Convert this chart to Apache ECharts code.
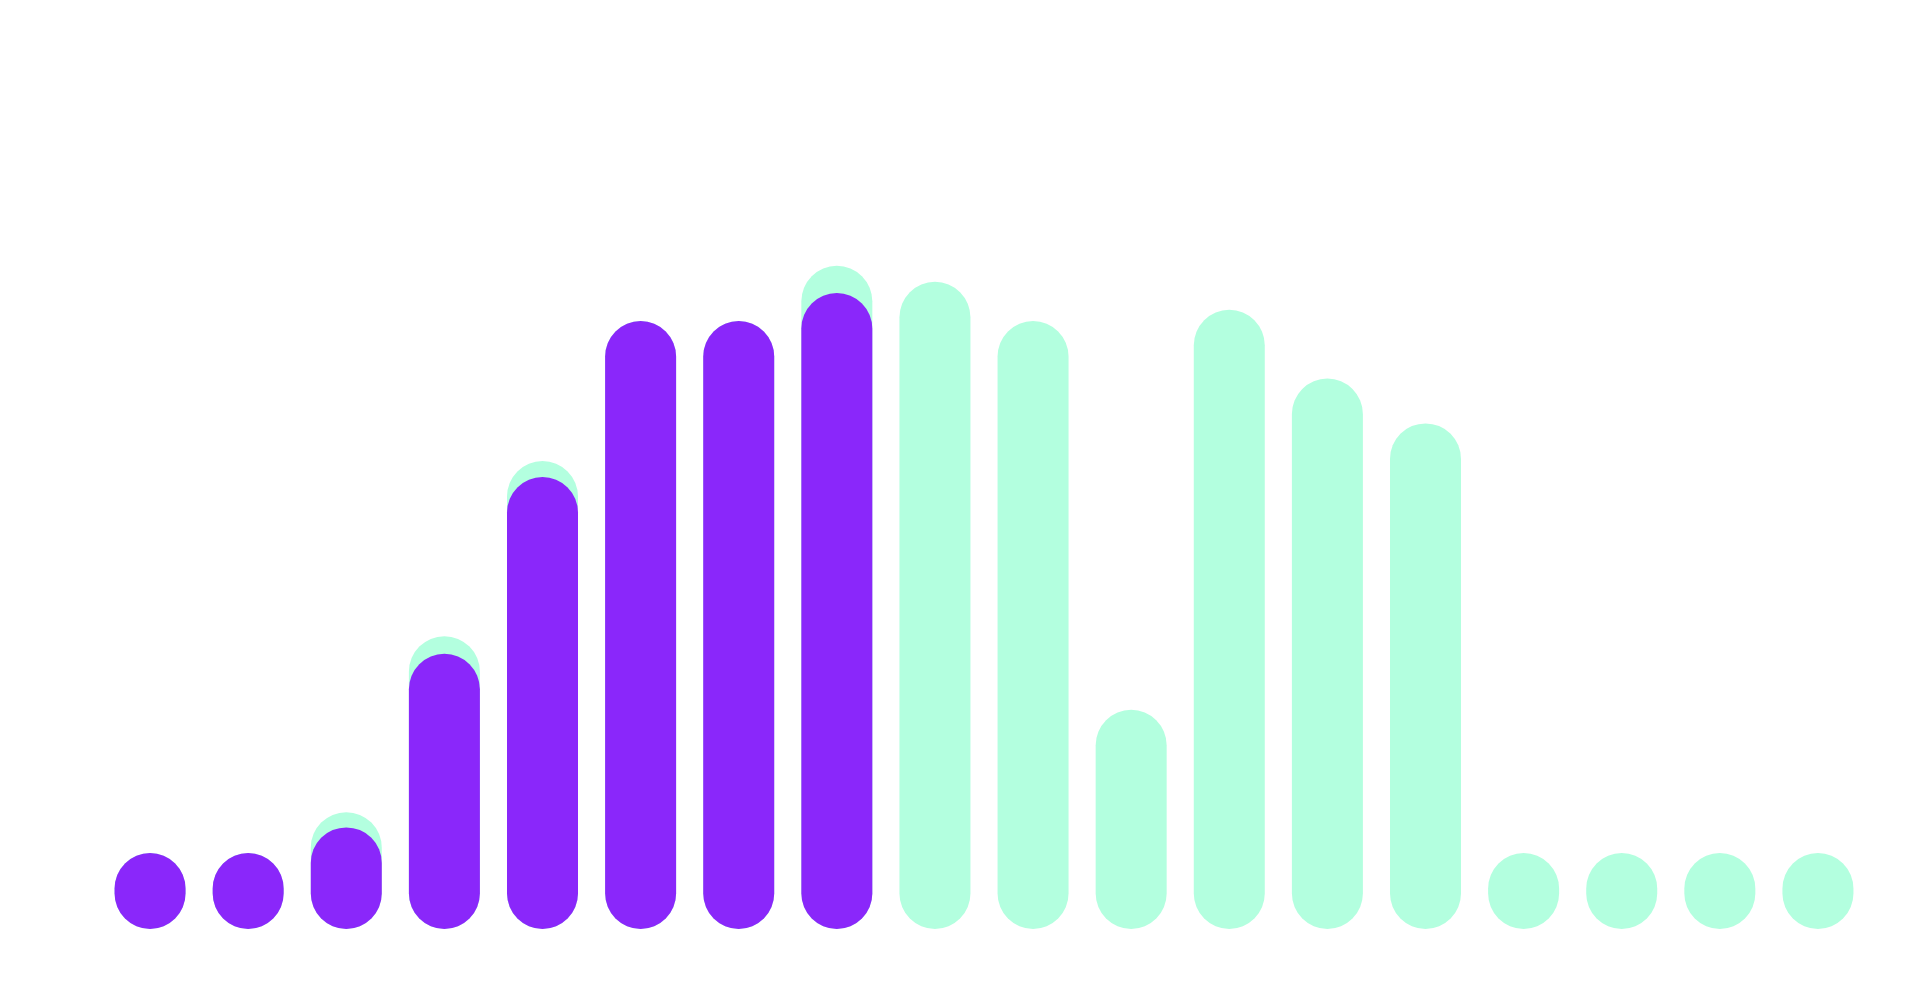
<!DOCTYPE html>
<html>
<head>
<meta charset="utf-8">
<title>Rounded bars</title>
<script src="https://cdn.jsdelivr.net/npm/echarts@6/dist/echarts.min.js"></script>
<style>
    html, body {
        margin: 0;
        padding: 0;
        background: #ffffff;
    }
    #chart {
        width: 1915px;
        height: 994px;
    }
</style>
</head>
<body>
<div id="chart"></div>
<script>
    // 分类（图上没有显示标签）
    var categories = ['1', '2', '3', '4', '5', '6', '7', '8', '9', '10', '11', '12', '13', '14', '15', '16', '17', '18']
    // 浅绿色：总量
    var totalValues = [0, 0, 14.6, 36.6, 58.5, 76.0, 76.0, 82.9, 80.9, 76.0, 27.4, 77.4, 68.8, 63.2, 0, 0, 0, 0]
    // 紫色：已完成
    var doneValues = [0, 0, 12.7, 34.4, 56.5, 76.0, 76.0, 79.5]

    var chart = echarts.init(document.getElementById('chart'))

    var option = {
        animation: false,
        grid: {
            left: 101,
            right: 48,
            top: 129,
            bottom: 65
        },
        xAxis: {
            type: 'category',
            data: categories,
            show: false
        },
        yAxis: {
            type: 'value',
            min: 0,
            max: 100,
            show: false,
            splitLine: {
                show: false
            }
        },
        series: [
            {
                name: 'total',
                type: 'bar',
                data: totalValues,
                barWidth: 71,
                barGap: '-100%',
                barMinHeight: 76,
                itemStyle: {
                    color: '#B3FFDF',
                    borderRadius: 35.5
                }
            },
            {
                name: 'done',
                type: 'bar',
                data: doneValues,
                barWidth: 71,
                barGap: '-100%',
                barMinHeight: 76,
                itemStyle: {
                    color: '#8A27FA',
                    borderRadius: 35.5
                }
            }
        ]
    }

    chart.setOption(option)
</script>
</body>
</html>
